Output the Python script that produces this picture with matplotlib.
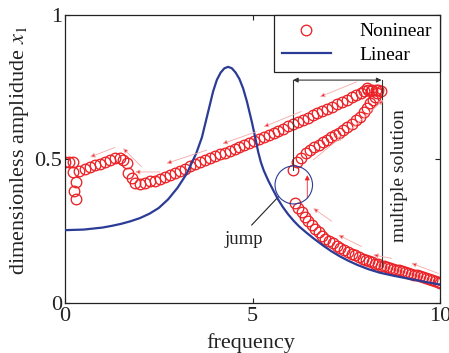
import matplotlib
matplotlib.use("Agg")
import matplotlib.pyplot as plt
from matplotlib.patches import Ellipse

plt.rcParams['font.family'] = ['Liberation Serif', 'DejaVu Serif']
plt.rcParams['mathtext.fontset'] = 'stix'

# ---------------- data ----------------
lin_freq = [0, 0.5, 1.0, 1.25, 1.5, 1.75, 2.0, 2.25, 2.5, 2.75, 3.0, 3.25, 3.5, 3.65, 3.8,
            3.95, 4.05, 4.15, 4.25, 4.35, 4.45, 4.55, 4.65, 4.75, 4.85, 4.98, 5.08, 5.15,
            5.22, 5.3, 5.42, 5.55, 5.68, 5.81, 5.95, 6.1, 6.25, 6.45, 6.65, 6.9, 7.1,
            7.33, 7.55, 7.8, 8.1, 8.4, 8.75, 9.1, 9.5, 10.0]
lin_amp = [0.253, 0.255, 0.262, 0.268, 0.275, 0.284, 0.295, 0.31, 0.33, 0.36, 0.40, 0.45,
           0.52, 0.575, 0.655, 0.735, 0.775, 0.80, 0.815, 0.82, 0.815, 0.80, 0.778, 0.745,
           0.70, 0.63, 0.57, 0.525, 0.49, 0.46, 0.425, 0.392, 0.36, 0.333, 0.308, 0.285,
           0.265, 0.243, 0.222, 0.198, 0.18, 0.162, 0.147, 0.132, 0.117, 0.105, 0.095,
           0.086, 0.076, 0.064]

# nonlinear response: low-frequency part
nl_low_freq = [0.0, 0.11, 0.2, 0.22, 0.29, 0.24, 0.29,
               0.38, 0.52, 0.66, 0.80, 0.93, 1.07, 1.20, 1.33, 1.46, 1.55,
               1.64, 1.69, 1.78, 1.87, 2.0,
               2.13, 2.27, 2.40, 2.53, 2.67, 2.80, 2.93, 3.07, 3.20, 3.33, 3.47, 3.60, 3.73]
nl_low_amp = [0.49, 0.49, 0.49, 0.456, 0.421, 0.389, 0.36,
              0.459, 0.466, 0.472, 0.478, 0.484, 0.490, 0.497, 0.502, 0.502, 0.496,
              0.485, 0.45, 0.433, 0.418, 0.413,
              0.418, 0.422, 0.425, 0.43, 0.439, 0.444, 0.452, 0.459, 0.467, 0.476, 0.483, 0.49, 0.497]

# nonlinear response: upper branch
nl_up_freq = [3.87, 4.0, 4.13, 4.26, 4.39, 4.52, 4.65, 4.78, 4.91, 5.04, 5.17, 5.30, 5.43,
              5.56, 5.69, 5.82, 5.95, 6.08, 6.21, 6.34, 6.47, 6.60, 6.73, 6.86, 6.99, 7.12,
              7.25, 7.38, 7.51, 7.64, 7.77, 7.88, 7.98, 8.05, 8.08, 8.15, 8.18, 8.28, 8.35, 8.42]
nl_up_amp = [0.505, 0.510, 0.516, 0.522, 0.528, 0.535, 0.542, 0.548, 0.555, 0.561, 0.568,
             0.575, 0.582, 0.589, 0.597, 0.605, 0.613, 0.620, 0.628, 0.636, 0.644, 0.652,
             0.659, 0.666, 0.674, 0.682, 0.690, 0.698, 0.706, 0.714, 0.722, 0.730, 0.735,
             0.745, 0.738, 0.735, 0.741, 0.740, 0.738, 0.735]

# nonlinear response: middle branch of the multiple-solution region
nl_mid_freq = [6.09, 6.18, 6.30, 6.42, 6.53, 6.65, 6.76, 6.87, 6.98, 7.09, 7.20, 7.31, 7.42,
               7.53, 7.64, 7.75, 7.87, 7.97, 8.05, 8.13, 8.20, 8.26, 8.31]
nl_mid_amp = [0.462, 0.49, 0.505, 0.52, 0.531, 0.54, 0.55, 0.558, 0.566, 0.575, 0.583, 0.592,
              0.60, 0.612, 0.623, 0.635, 0.647, 0.663, 0.677, 0.693, 0.706, 0.717, 0.728]

# nonlinear response: lower branch (after the jump)
nl_tail_freq = [6.13, 6.22, 6.31, 6.40, 6.49, 6.58, 6.67, 6.76, 6.85, 6.94, 7.04, 7.14, 7.24,
                7.34, 7.44, 7.54, 7.64, 7.74, 7.84, 7.94, 8.02, 8.10, 8.18, 8.26, 8.34, 8.42,
                8.50, 8.58, 8.66, 8.74, 8.82, 8.90, 8.98, 9.06, 9.14, 9.22, 9.30, 9.38, 9.46,
                9.54, 9.62, 9.70, 9.78, 9.86, 9.94, 10.0]
nl_tail_amp = [0.348, 0.33, 0.317, 0.300, 0.285, 0.270, 0.257, 0.245, 0.234, 0.224, 0.215,
               0.207, 0.199, 0.192, 0.185, 0.178, 0.171, 0.165, 0.159, 0.154, 0.149, 0.145,
               0.141, 0.137, 0.134, 0.130, 0.127, 0.124, 0.121, 0.118, 0.115, 0.113, 0.110,
               0.107, 0.104, 0.101, 0.098, 0.096, 0.093, 0.090, 0.087, 0.084, 0.081, 0.078,
               0.074, 0.071]

x_ticks = [0, 5, 10]
y_ticks = [0, 0.5, 1]
x_ticklabels = ['0', '5', '10']
y_ticklabels = ['0', '0.5', '1']

RED = '#ec2227'
BLUE = '#2b3c96'
GUIDE = '#f6a8a8'

fig = plt.figure(figsize=(4.49, 3.53), dpi=100)
ax = fig.add_axes([0.1448, 0.1416, 0.8352, 0.8159])

mk = dict(linestyle='none', marker='o', markersize=7.6, markerfacecolor='none',
          markeredgecolor=RED, markeredgewidth=0.95)

ax.plot(nl_low_freq, nl_low_amp, label='Noninear', **mk)
ax.plot(nl_up_freq, nl_up_amp, **mk)
ax.plot(nl_mid_freq, nl_mid_amp, **mk)
ax.plot(nl_tail_freq, nl_tail_amp, **mk)
ax.plot(lin_freq, lin_amp, color=BLUE, lw=1.6, label='Linear', zorder=3,
        solid_joinstyle='round')

# faint sweep-direction guides with small arrow heads
guides = [
    ((1.33, 0.540), (0.67, 0.507)),
    ((2.04, 0.473), (1.55, 0.537)),
    ((2.53, 0.455), (1.87, 0.455)),
    ((3.78, 0.531), (2.71, 0.485)),
    ((5.10, 0.595), (4.20, 0.553)),
    ((6.30, 0.665), (5.30, 0.612)),
    ((7.78, 0.768), (6.80, 0.716)),
    ((6.62, 0.497), (7.40, 0.580)),
    ((7.60, 0.600), (8.49, 0.705)),
    ((7.11, 0.284), (6.62, 0.329)),
    ((7.91, 0.196), (7.29, 0.236)),
    ((8.71, 0.155), (8.22, 0.167)),
    ((9.95, 0.103), (9.24, 0.138)),
]
for (x0, y0), (x1, y1) in guides:
    ax.annotate('', xy=(x1, y1), xytext=(x0, y0),
                arrowprops=dict(arrowstyle='-|>', color=GUIDE, lw=0.6,
                                mutation_scale=7, shrinkA=0, shrinkB=0,
                                fc=RED, ec=GUIDE))

# vertical jump arrow
ax.annotate('', xy=(6.46, 0.444), xytext=(6.46, 0.365),
            arrowprops=dict(arrowstyle='-|>', color=RED, lw=0.6, mutation_scale=7,
                            shrinkA=0, shrinkB=0, fc=RED))

# jump circle
ax.add_patch(Ellipse((6.1, 0.41), width=1.0, height=0.132, fill=False,
                     ec=BLUE, lw=0.8, zorder=4))
ax.plot([4.98, 5.69], [0.271, 0.369], color='#222222', lw=0.8)
ax.text(4.77, 0.205, 'jump', fontsize=13.5, ha='center', va='baseline', color='#222222')

# multiple-solution bracket
ax.plot([6.08, 6.08], [0.774, 0.462], color='#333333', lw=0.8)
ax.plot([8.44, 8.44], [0.774, 0.125], color='#333333', lw=0.8)
ax.annotate('', xy=(6.08, 0.774), xytext=(8.44, 0.774),
            arrowprops=dict(arrowstyle='<|-|>', color='#333333', lw=0.8,
                            mutation_scale=7, shrinkA=0, shrinkB=0))
ax.text(8.93, 0.444, 'multiple solution', fontsize=14, rotation=90,
        ha='center', va='center', color='#222222')

ax.set_xlim(0, 10)
ax.set_ylim(0, 1)
ax.set_xticks(x_ticks)
ax.set_xticklabels(x_ticklabels)
ax.set_yticks(y_ticks)
ax.set_yticklabels(y_ticklabels)
ax.tick_params(direction='in', length=3.5, width=0.8, top=True, right=True,
               labelsize=16, colors='#222222')
ax.tick_params(axis='x', pad=3)
ax.tick_params(axis='y', pad=2)
for s in ax.spines.values():
    s.set_linewidth(0.9)
    s.set_color('#222222')

ax.set_xlabel('frequency', fontsize=16, color='#222222')
ax.set_ylabel(r'dimensionless amplidude $x_1$', fontsize=16, color='#222222')
ax.xaxis.set_label_coords(0.496, -0.106)
ax.yaxis.set_label_coords(-0.092, 0.53)

leg = ax.legend(loc='upper right', fontsize=14, frameon=True, fancybox=False,
                edgecolor='#222222', framealpha=1, borderaxespad=0,
                borderpad=0.4, labelspacing=0.3, handlelength=2.5, handletextpad=1.5)
leg.get_frame().set_linewidth(0.9)

fig.savefig('out.png', dpi=100)
